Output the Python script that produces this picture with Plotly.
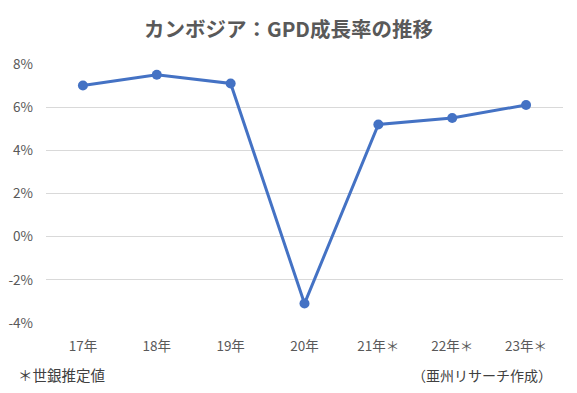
import plotly.graph_objects as go

categories = ["17年", "18年", "19年", "20年", "21年＊", "22年＊", "23年＊"]
growth = [7.0, 7.5, 7.1, -3.1, 5.2, 5.5, 6.1]
y_ticks = [-4, -2, 0, 2, 4, 6, 8]
y_tick_labels = ["-4%", "-2%", "0%", "2%", "4%", "6%", "8%"]

font_family = "Noto Sans CJK JP, Noto Sans, sans-serif"

fig = go.Figure()
fig.add_trace(go.Scatter(
    x=categories, y=growth, mode="lines+markers",
    line=dict(color="#4472C4", width=3),
    marker=dict(color="#4472C4", size=10),
    showlegend=False, cliponaxis=False,
))

fig.update_layout(
    width=577, height=393,
    margin=dict(l=46, r=14, t=64, b=70),
    paper_bgcolor="white", plot_bgcolor="white",
    font=dict(family=font_family, color="#595959", size=13),
    title=dict(text="<b>カンボジア：GPD成長率の推移</b>", x=0.5, xanchor="center",
               xref="container", y=0.925, yanchor="middle",
               font=dict(size=20.5, color="#595959", family=font_family)),
    xaxis=dict(type="category", range=[-0.5, 6.5], showgrid=False, zeroline=False,
               showline=False, ticks="", automargin=False,
               tickfont=dict(size=13.5, color="#595959"),
               ticklabelstandoff=13),
    yaxis=dict(range=[-4, 8], tickvals=y_ticks, ticktext=y_tick_labels,
               showgrid=True, gridcolor="#D9D9D9", gridwidth=1, automargin=False,
               zeroline=False, showline=False, ticks="",
               tickfont=dict(size=13.5, color="#595959"),
               ticklabelstandoff=12),
    annotations=[
        dict(text="＊世銀推定値", xref="paper", yref="paper", x=-0.058, y=-0.2,
             xanchor="left", yanchor="middle", showarrow=False,
             font=dict(size=14.5, color="#404040", family=font_family)),
        dict(text="（亜州リサーチ作成）", xref="paper", yref="paper", x=0.983, y=-0.2,
             xanchor="right", yanchor="middle", showarrow=False,
             font=dict(size=14, color="#404040", family=font_family)),
    ],
)

fig.write_html("out.html", config={"displayModeBar": False},
               post_script="document.body.style.margin='0';document.body.style.overflow='hidden';")
